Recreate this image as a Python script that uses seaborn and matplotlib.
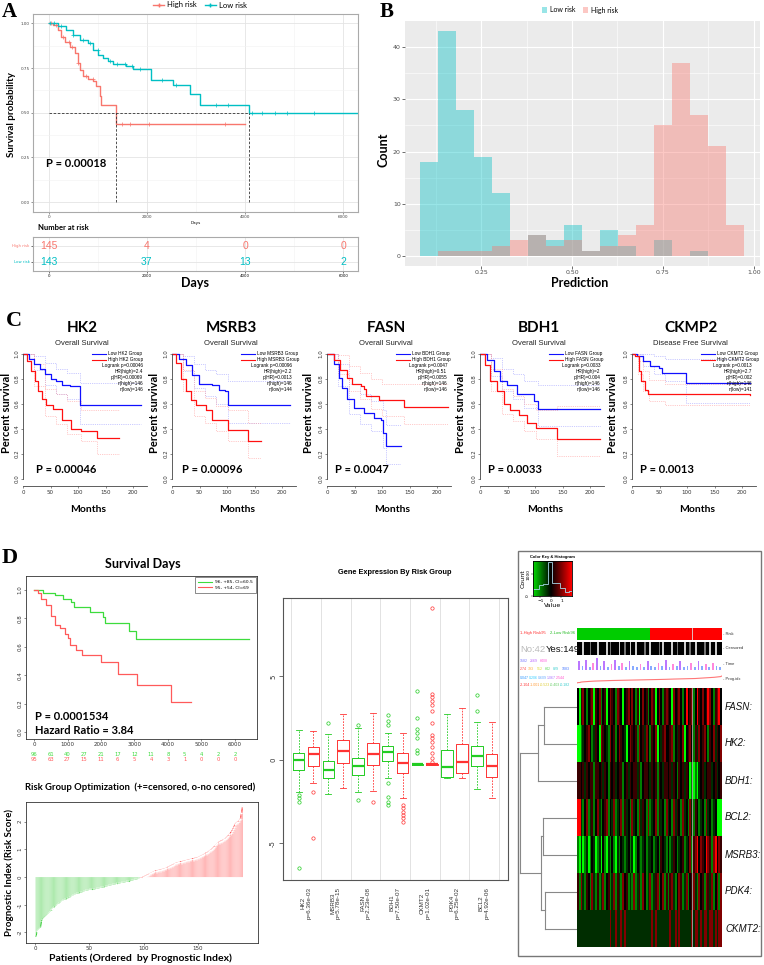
import numpy as np
import pandas as pd
import matplotlib
matplotlib.use("Agg")
import matplotlib.pyplot as plt
from matplotlib.lines import Line2D
from matplotlib.patches import Patch, Rectangle
from matplotlib.colors import LinearSegmentedColormap
import seaborn as sns

# ======================= DATA =======================
# ---- Panel A : KM by risk group ----
a_high_t = [0, 88, 190, 258, 326, 428, 530, 597, 631, 700, 801, 903, 971, 1039, 1073, 1365, 3992]
a_high_s = [1.0, 0.99, 0.963, 0.926, 0.898, 0.87, 0.833, 0.778, 0.74, 0.707, 0.689, 0.676, 0.648, 0.593, 0.545, 0.435, 0.435]
a_low_t = [0, 190, 360, 496, 631, 801, 903, 1005, 1107, 1208, 1310, 1582, 1718, 2090, 2532, 2885, 3089, 4080, 6300]
a_low_s = [1.0, 0.985, 0.963, 0.935, 0.907, 0.889, 0.852, 0.824, 0.806, 0.787, 0.774, 0.763, 0.744, 0.685, 0.657, 0.602, 0.541, 0.50, 0.50]
a_high_cens = [40, 150, 300, 420, 480, 600, 750, 900, 1500, 1650, 2050, 3600]
a_low_cens = [30, 100, 250, 500, 700, 850, 1000, 1250, 1400, 1550, 1700, 1850, 2300, 2600, 3400, 3650, 4150, 4350, 4600, 4850, 5400]
a_median_days = [1365, 4080]
a_risk_times = [0, 2000, 4000, 6000]
a_risk_high = [145, 4, 0, 0]
a_risk_low = [143, 37, 13, 2]

# ---- Panel B : prediction histogram ----
b_edges = [0.083, 0.132, 0.182, 0.231, 0.281, 0.330, 0.380, 0.429, 0.478, 0.528,
           0.577, 0.627, 0.676, 0.726, 0.775, 0.825, 0.874, 0.924, 0.973]
b_low = [18, 43, 28, 19, 12, 0, 4, 3, 6, 1, 5, 2, 0, 3, 0, 1, 0, 0]
b_high = [0, 1, 1, 1, 2, 3, 4, 2, 3, 1, 2, 4, 6, 25, 37, 27, 21, 6]

# ---- Panel C : GEPIA survival curves ----
c_titles = ['HK2', 'MSRB3', 'FASN', 'BDH1', 'CKMP2']
c_subtitles = ['Overall Survival', 'Overall Survival', 'Overall Survival', 'Overall Survival', 'Disease Free Survival']
c_pvals = ['P = 0.00046', 'P = 0.00096', 'P = 0.0047', 'P = 0.0033', 'P = 0.0013']
c_legend = [
    ['Low HK2 Group', 'High HK2 Group', 'Logrank p=0.00046', 'HR(high)=2.4', 'p(HR)=0.00069', 'n(high)=146', 'n(low)=146'],
    ['Low MSRB3 Group', 'High MSRB3 Group', 'Logrank p=0.00096', 'HR(high)=2.2', 'p(HR)=0.0013', 'n(high)=146', 'n(low)=144'],
    ['Low BDH1 Group', 'High BDH1 Group', 'Logrank p=0.0047', 'HR(high)=0.51', 'p(HR)=0.0055', 'n(high)=146', 'n(low)=146'],
    ['Low FASN Group', 'High FASN Group', 'Logrank p=0.0033', 'HR(high)=2', 'p(HR)=0.004', 'n(high)=146', 'n(low)=146'],
    ['Low CKMT2 Group', 'High CKMT2 Group', 'Logrank p=0.0013', 'HR(high)=2.7', 'p(HR)=0.002', 'n(high)=146', 'n(low)=141'],
]
c_low_t = [[0, 10, 20, 30, 40, 50, 60, 70, 85, 103, 215],
           [0, 12, 25, 37, 49, 73, 85, 96, 102, 215],
           [0, 12, 21, 27, 37, 49, 67, 85, 98, 101, 107, 134],
           [0, 12, 25, 37, 49, 68, 98, 105, 218],
           [0, 9, 20, 32, 49, 55, 99, 215]]
c_low_s = [[1.0, 0.96, 0.92, 0.88, 0.84, 0.80, 0.78, 0.75, 0.74, 0.59, 0.59],
           [1.0, 0.96, 0.91, 0.83, 0.76, 0.75, 0.71, 0.70, 0.59, 0.59],
           [1.0, 0.92, 0.81, 0.73, 0.64, 0.57, 0.53, 0.49, 0.475, 0.37, 0.26, 0.26],
           [1.0, 0.95, 0.86, 0.78, 0.75, 0.68, 0.62, 0.56, 0.56],
           [1.0, 0.98, 0.94, 0.90, 0.886, 0.846, 0.765, 0.765]]
c_high_t = [[0, 8, 15, 22, 28, 35, 42, 55, 70, 88, 105, 134, 175],
            [0, 8, 17, 25, 34, 43, 61, 73, 102, 138, 161],
            [0, 12, 24, 37, 46, 61, 67, 70, 94, 140, 220],
            [0, 9, 18, 31, 43, 55, 71, 86, 102, 140, 218],
            [0, 6, 12, 17, 23, 29, 215]]
c_high_s = [[1.0, 0.94, 0.86, 0.78, 0.70, 0.64, 0.59, 0.56, 0.47, 0.40, 0.38, 0.33, 0.33],
            [1.0, 0.93, 0.80, 0.70, 0.63, 0.59, 0.55, 0.47, 0.39, 0.30, 0.30],
            [1.0, 0.955, 0.875, 0.81, 0.76, 0.74, 0.72, 0.66, 0.63, 0.575, 0.575],
            [1.0, 0.91, 0.78, 0.70, 0.60, 0.55, 0.51, 0.45, 0.41, 0.32, 0.32],
            [1.0, 0.98, 0.86, 0.78, 0.71, 0.68, 0.675]]
c_low_ci_t = [[0, 20, 40, 60, 80, 103, 215], [0, 20, 40, 60, 80, 102, 215], [0, 20, 40, 60, 80, 101, 107, 134],
              [0, 20, 40, 60, 80, 105, 218], [0, 20, 40, 60, 99, 215]]
c_low_ci_hi = [[1.0, 0.98, 0.93, 0.88, 0.85, 0.77, 0.77], [1.0, 0.98, 0.92, 0.87, 0.84, 0.78, 0.78],
               [1.0, 0.92, 0.76, 0.68, 0.62, 0.55, 0.43, 0.43], [1.0, 0.97, 0.88, 0.84, 0.78, 0.75, 0.75],
               [1.0, 1.0, 0.98, 0.96, 0.96, 0.96]]
c_low_ci_lo = [[1.0, 0.87, 0.75, 0.68, 0.64, 0.44, 0.44], [1.0, 0.86, 0.73, 0.66, 0.60, 0.45, 0.45],
               [1.0, 0.74, 0.52, 0.44, 0.38, 0.25, 0.12, 0.12], [1.0, 0.82, 0.70, 0.64, 0.57, 0.42, 0.42],
               [1.0, 0.90, 0.84, 0.78, 0.61, 0.61]]
c_high_ci_t = [[0, 20, 40, 60, 80, 105, 134, 175], [0, 20, 40, 60, 80, 102, 138, 161], [0, 20, 40, 60, 80, 100, 140, 220],
               [0, 20, 40, 60, 80, 102, 140, 218], [0, 10, 20, 30, 60, 215]]
c_high_ci_hi = [[1.0, 0.92, 0.72, 0.68, 0.62, 0.55, 0.55, 0.55], [1.0, 0.87, 0.70, 0.65, 0.58, 0.55, 0.45, 0.45],
                [1.0, 0.99, 0.90, 0.85, 0.80, 0.76, 0.76, 0.76], [1.0, 0.88, 0.72, 0.66, 0.60, 0.55, 0.58, 0.58],
                [1.0, 0.94, 0.86, 0.79, 0.76, 0.76]]
c_high_ci_lo = [[1.0, 0.74, 0.50, 0.44, 0.36, 0.30, 0.20, 0.20], [1.0, 0.70, 0.50, 0.45, 0.38, 0.30, 0.17, 0.17],
                [1.0, 0.84, 0.70, 0.64, 0.56, 0.50, 0.44, 0.44], [1.0, 0.70, 0.52, 0.46, 0.38, 0.32, 0.18, 0.18],
                [1.0, 0.84, 0.70, 0.62, 0.59, 0.59]]

# ---- Panel D (left top): survival days ----
d_low_t = [0, 269, 617, 866, 1114, 1184, 1682, 2060, 2110, 2836, 3035, 6418]
d_low_s = [1.0, 0.976, 0.965, 0.94, 0.918, 0.88, 0.847, 0.812, 0.765, 0.71, 0.652, 0.652]
d_high_t = [0, 119, 219, 368, 517, 617, 766, 915, 1015, 1085, 1264, 1443, 2010, 2507, 3075, 4100, 4697]
d_high_s = [1.0, 0.976, 0.94, 0.894, 0.82, 0.753, 0.73, 0.694, 0.66, 0.612, 0.576, 0.54, 0.494, 0.41, 0.33, 0.21, 0.21]
d_risk_times = [0, 500, 1000, 1500, 2000, 2500, 3000, 3500, 4000, 4500, 5000, 5500, 6000]
d_risk_low = [96, 61, 40, 27, 21, 17, 12, 11, 8, 5, 4, 2, 2]
d_risk_high = [95, 63, 27, 15, 11, 6, 5, 4, 3, 1, 0, 0, 0]
d_legend = ['96, +85, CI=60.5', '95, +54, CI=69']

# ---- Panel D (left bottom): prognostic index, ordered ----
d_pi_low = [-2.15, -1.95, -1.90, -1.86, -1.84, -1.60, -1.52, -1.47, -1.43, -1.40,
            -1.36, -1.33, -1.30, -1.27, -1.22, -1.17, -1.12, -1.08, -1.05, -1.02,
            -0.99, -0.96, -0.93, -0.90, -0.88, -0.86, -0.84, -0.82, -0.80, -0.78,
            -0.76, -0.74, -0.72, -0.70, -0.68, -0.66, -0.64, -0.62, -0.61, -0.60,
            -0.58, -0.57, -0.56, -0.55, -0.53, -0.52, -0.51, -0.50, -0.49, -0.48,
            -0.48, -0.47, -0.46, -0.46, -0.45, -0.44, -0.44, -0.43, -0.42, -0.41,
            -0.40, -0.39, -0.38, -0.37, -0.36, -0.35, -0.34, -0.33, -0.32, -0.31,
            -0.30, -0.29, -0.28, -0.27, -0.26, -0.26, -0.25, -0.24, -0.23, -0.23,
            -0.22, -0.21, -0.20, -0.19, -0.18, -0.17, -0.16, -0.15, -0.14, -0.13,
            -0.12, -0.11, -0.10, -0.09, -0.08, -0.07]
d_pi_high = [-0.05, -0.03, -0.01, 0.01,
             0.03, 0.05, 0.07, 0.09, 0.11, 0.13, 0.15, 0.17, 0.19, 0.21,
             0.22, 0.23, 0.24, 0.25, 0.26, 0.27, 0.28, 0.29, 0.30, 0.31,
             0.33, 0.35, 0.37, 0.39, 0.41, 0.43, 0.45, 0.47, 0.49, 0.51,
             0.52, 0.53, 0.54, 0.55, 0.56, 0.57, 0.58, 0.59, 0.60, 0.61,
             0.62, 0.63, 0.64, 0.65, 0.66, 0.67, 0.68, 0.69, 0.70, 0.71,
             0.73, 0.75, 0.77, 0.79, 0.81, 0.83, 0.86, 0.88, 0.90, 0.93,
             0.96, 0.99, 1.02, 1.06, 1.10, 1.14, 1.18, 1.22, 1.25, 1.28,
             1.30, 1.32, 1.34, 1.36, 1.38, 1.42, 1.46, 1.50, 1.55, 1.60,
             1.65, 1.72, 1.80, 1.90, 1.95, 1.98, 2.00, 2.05, 2.10, 2.30, 2.55]

# ---- Panel D (middle): gene expression boxplots (whislo, q1, med, q3, whishi) ----
d_genes = ['HK2', 'MSRB3', 'FASN', 'BDH1', 'CKMT2', 'PDK4', 'BCL2']
d_gene_p = ['p=6.36e-03', 'p=5.78e-15', 'p=2.23e-08', 'p=7.50e-07', 'p=1.02e-01', 'p=6.25e-02', 'p=4.92e-06']
d_low_box = [[-1.94, -0.6, 0.0, 0.4, 1.8], [-2.06, -1.1, -0.6, -0.06, 1.54], [-1.94, -0.9, -0.36, 0.1, 1.9],
             [-1.06, -0.06, 0.46, 0.86, 1.6], [-0.3, -0.28, -0.26, -0.22, -0.2], [-1.06, -1.0, -0.4, 0.6, 2.74],
             [-1.74, -0.36, 0.26, 0.86, 2.26]]
d_low_fliers = [[-2.1, -2.3, -2.5, -6.5], [2.2], [2.06, -2.4], [2.66, 2.34, 2.06, -1.4, -2.2, -2.5, -2.7],
                [4.1, 2.5, 1.86, 1.6, 1.3, 0.6, 0.4], [], [3.9, 2.9]]
d_high_box = [[-1.4, -0.34, 0.34, 0.76, 1.74], [-1.66, -0.16, 0.54, 1.2, 2.74], [-1.86, -0.3, 0.34, 1.04, 2.8],
              [-2.3, -0.8, -0.2, 0.4, 1.58], [-0.3, -0.28, -0.26, -0.22, -0.2], [-1.06, -0.8, -0.1, 0.94, 3.1],
              [-2.3, -1.0, -0.36, 0.36, 2.26]]
d_high_fliers = [[-1.94, -4.66], [], [-2.5], [-2.7, -2.9, -3.1, -3.3, -3.5, -3.7],
                 [9.1, 3.94, 3.74, 3.5, 3.3, 2.9, 2.2, 1.5, 1.3, 1.06, 0.8, 0.4, 0.1, -0.1], [], []]

# ---- Panel D (right): heatmap ----
hm_genes = ['FASN:', 'HK2:', 'BDH1:', 'BCL2:', 'MSRB3:', 'PDK4:', 'CKMT2:']
hm_rows = ['kGmrkgkmrG mkrgkmGkrm kgrmkGkmrk rkgmGkrkmg krmGkrkgmr mkGrkmrkgk RkmrgkRmkr kmRrkgmrRk',
           'GGgdkmrkgd mkGrmkdgrk mgkrmkdGkr mkmgrkmdrk gmkrGkdmrk kmrgkdmkrG kmrkgmdrkm rkgmkrdmkr',
           'mmkmdmkmmg mmkmdmkgmk mdkmmgkmdm kmmdmgkmmk dmkmgmkdmm kmdmkgmkmd mkGgGgGdkm dkmmdkmdkm',
           'RRdgkrgdmg krdgkmrgkd rgdkrgmdkg rdkgrdmkgr gdkrgmdkgr dkgrdmkgrd kgrdgmkgdk grdkgdkGGG',
           'gGdGgdGgkd GgdGkgGdgk gGdgkdgdkg dGgkdgdkgd dkgdkgmkdg kgdmkgdkmg dkrgmrRkrm kRrmgrRkrm',
           'mgrdgmkgrd gmgdrgkmgd rgmdgrkmgd grgdmgrkgd rgdmrgkrgm gmrdgkrmgd rgkmrdgrkm grmdrgkrgr',
           'dddddddddd ddddddddrd drddrdrddd dddddddddd drdrdddddd drddrdrddd dddrdrrdrd rrdrrdrdrr']
hm_levels = {'G': -2.0, 'g': -1.0, 'd': -0.35, 'k': 0.0, 'm': 0.45, 'r': 1.0, 'R': 2.0}
hm_censored = 'kkkwkkklkk kwkkkkwklk kkkwkklkkw kkwkkkklkk wkkkklkwkk kkwkklkkkw kklkkwkkkk lkkwkkwkkk'
hm_time = [6, 3, 7, 2, 5, 8, 3, 6, 2, 4, 7, 3, 5, 2, 6, 3, 2, 4, 2, 6,
           3, 2, 5, 3, 7, 2, 4, 3, 6, 2, 3, 5, 2, 6, 3, 4, 2, 5, 3, 2]
hm_n_low, hm_n_high = 96, 95
hm_marker_col = 151
ck_edges = [-1.68, -1.11, -0.79, -0.25, 0.13, 0.86, 1.33, 1.75, 1.97]
ck_counts = [300, 520, 560, 1540, 600, 370, 200, 230]
dend_merges = [(0, 1, 0.95), (7, 2, 1.13), (3, 4, 1.00), (5, 6, 0.93), (9, 10, 1.05), (8, 11, 1.65)]
legend_rows = [
    [('1582', '#7777FF'), ('2669', '#BB66FF'), ('6408', '#FF66DD')],
    [('2.74', '#FF4444'), ('393', '#FFAA33'), ('512', '#DDDD33'), ('642', '#66DD66'), ('829', '#33CCCC'), ('1083', '#4477FF')],
    [('0.047', '#3399FF'), ('0.206', '#33CCFF'), ('0.609', '#66AAFF'), ('1.067', '#AA77FF'), ('2.544', '#FF55CC')],
    [('-2.104', '#FF3333'), ('-1.001', '#FF9933'), ('-0.523', '#DDCC33'), ('-0.403', '#66CC66'), ('-0.182', '#33CCCC')],
]

# ======================= FIGURE =======================
plt.rcParams['font.family'] = ['DejaVu Sans']
plt.rcParams['axes.linewidth'] = 0.6
W, H = 764, 965
fig = plt.figure(figsize=(W / 100, H / 100), dpi=100)
fig.patch.set_facecolor('white')

CAL = ['Lato', 'DejaVu Sans']
ARI = ['Liberation Sans', 'DejaVu Sans']
SER = ['Liberation Serif', 'DejaVu Serif']
SAL, TEA = '#F8766D', '#00BFC4'


def pax(x0, y0, x1, y1):
    return fig.add_axes([x0 / W, 1 - y1 / H, (x1 - x0) / W, (y1 - y0) / H])


def ftext(x, y, s, **kw):
    kw.setdefault('ha', 'center')
    kw.setdefault('va', 'center')
    return fig.text(x / W, 1 - y / H, s, **kw)


def km(ax, t, s, color, lw, **kw):
    sns.lineplot(x=t, y=s, drawstyle='steps-post', color=color, lw=lw, ax=ax,
                 estimator=None, sort=False, **kw)


def step_at(t, s, x):
    i = np.searchsorted(np.asarray(t), np.asarray(x), side='right') - 1
    return np.asarray(s)[i]


# ---------------- Panel A ----------------
ftext(9, 12, 'A', fontsize=15, fontweight='bold', family=SER)
axA = pax(33, 14, 358, 212)
axA.set_xlim(-320, 6300)
axA.set_ylim(-0.055, 1.052)
axA.set_xticks(a_risk_times)
axA.set_xticks([1000, 3000, 5000], minor=True)
axA.set_yticks([0, 0.25, 0.5, 0.75, 1.0])
axA.set_yticklabels(['0.00', '0.25', '0.50', '0.75', '1.00'])
axA.set_yticks([0.125, 0.375, 0.625, 0.875], minor=True)
axA.grid(True, which='major', color='#E4E4E4', lw=0.6)
axA.grid(True, which='minor', color='#F2F2F2', lw=0.4)
axA.set_axisbelow(True)
axA.tick_params(which='major', labelsize=3, length=1.5, width=0.4, pad=1, colors='#444444')
axA.tick_params(which='minor', length=0)
for sp in axA.spines.values():
    sp.set_color('#AAAAAA')
    sp.set_linewidth(0.8)
km(axA, a_high_t, a_high_s, SAL, 1.0)
km(axA, a_low_t, a_low_s, TEA, 1.0)
axA.plot(a_high_cens, step_at(a_high_t, a_high_s, a_high_cens), '+', color=SAL, ms=2.5, mew=0.5)
axA.plot(a_low_cens, step_at(a_low_t, a_low_s, a_low_cens), '+', color=TEA, ms=2.5, mew=0.5)
axA.plot([0, a_median_days[1]], [0.5, 0.5], ls=(0, (3, 2)), color='#333333', lw=0.6)
for m in a_median_days:
    axA.plot([m, m], [0, 0.5], ls=(0, (3, 2)), color='#333333', lw=0.6)
axA.set_xlabel('Days', fontsize=3, labelpad=1)
axA.set_ylabel('')
axA.text(-50, 0.215, 'P = 0.00018', fontsize=8, fontweight='bold', family=CAL, va='center')
ftext(12, 115, 'Survival probability', rotation=90, fontsize=7, fontweight='bold', family=CAL)
fig.legend(handles=[Line2D([], [], color=SAL, marker='+', ms=3, lw=1),
                    Line2D([], [], color=TEA, marker='+', ms=3, lw=1)],
           labels=['High risk', 'Low risk'], loc='center', bbox_to_anchor=(200 / W, 1 - 5 / H),
           ncol=2, frameon=False, prop={'family': CAL, 'size': 5.5}, handlelength=1.5,
           columnspacing=1.0, handletextpad=0.4)

ftext(38, 228, 'Number at risk', ha='left', fontsize=5.5, fontweight='bold', family=CAL)
axR = pax(33, 237, 358, 271)
axR.set_xlim(-320, 6300)
axR.set_ylim(2.5625, 0.4375)
axR.set_xticks(a_risk_times)
axR.set_xticks([1000, 3000, 5000], minor=True)
axR.set_yticks([1, 2])
axR.set_yticklabels(['High risk', 'Low risk'])
for lab, c in zip(axR.get_yticklabels(), [SAL, TEA]):
    lab.set_color(c)
axR.grid(True, which='major', color='#E4E4E4', lw=0.6)
axR.grid(True, which='minor', axis='x', color='#F2F2F2', lw=0.4)
axR.tick_params(which='major', labelsize=2.8, length=1.5, width=0.4, pad=1)
axR.tick_params(which='minor', length=0)
for sp in axR.spines.values():
    sp.set_color('#AAAAAA')
    sp.set_linewidth(0.8)
for t, nh, nl in zip(a_risk_times, a_risk_high, a_risk_low):
    axR.text(t, 1, str(nh), color=SAL, fontsize=7.5, ha='center', va='center', family=ARI)
    axR.text(t, 2, str(nl), color=TEA, fontsize=7.5, ha='center', va='center', family=ARI)
ftext(195, 283, 'Days', fontsize=9, fontweight='bold', family=CAL)

# ---------------- Panel B ----------------
ftext(387, 12, 'B', fontsize=15, fontweight='bold', family=SER)
axB = pax(405, 21, 760, 266)
axB.set_facecolor('#EBEBEB')
b_centers = [(b_edges[i] + b_edges[i + 1]) / 2 for i in range(len(b_edges) - 1)]
dfl = pd.DataFrame({'pred': b_centers, 'n': b_low})
dfh = pd.DataFrame({'pred': b_centers, 'n': b_high})
sns.histplot(data=dfl, x='pred', weights='n', bins=b_edges, color=TEA, alpha=0.4, linewidth=0, ax=axB)
sns.histplot(data=dfh, x='pred', weights='n', bins=b_edges, color=SAL, alpha=0.4, linewidth=0, ax=axB)
axB.set_xlim(0.0412, 1.0165)
axB.set_ylim(-1.91, 44.98)
axB.set_xticks([0.25, 0.5, 0.75, 1.0])
axB.set_xticklabels(['0.25', '0.50', '0.75', '1.00'])
axB.set_xticks([0.125, 0.375, 0.625, 0.875], minor=True)
axB.set_yticks([0, 10, 20, 30, 40])
axB.set_yticks([5, 15, 25, 35], minor=True)
axB.set_axisbelow(True)
axB.grid(True, which='major', color='white', lw=0.8)
axB.grid(True, which='minor', color='white', lw=0.4)
axB.tick_params(which='major', labelsize=4.5, length=2, width=0.5, color='#333333', labelcolor='#4D4D4D', pad=1)
axB.tick_params(which='minor', length=0)
for sp in axB.spines.values():
    sp.set_visible(False)
axB.set_xlabel('')
axB.set_ylabel('')
ftext(580, 283, 'Prediction', fontsize=9, fontweight='bold', family=CAL)
ftext(383, 150, 'Count', rotation=90, fontsize=9, fontweight='bold', family=CAL)
fig.legend(handles=[Patch(facecolor=TEA, alpha=0.4), Patch(facecolor=SAL, alpha=0.4)],
           labels=['Low risk', 'High risk'], loc='center', bbox_to_anchor=(580 / W, 1 - 10 / H),
           ncol=2, frameon=False, prop={'family': CAL, 'size': 5}, handlelength=0.8, handleheight=0.8,
           columnspacing=1.0, handletextpad=0.4)

# ---------------- Panel C ----------------
ftext(14, 321, 'C', fontsize=16, fontweight='bold', family=SER)
c_x0 = [23, 172, 327, 480, 632]
c_ylab_x = [7, 155, 308, 460, 613]
c_p_x = [36, 182, 335, 488, 640]
PXM = 0.55
for i in range(5):
    x0 = c_x0[i]
    ax = pax(x0, 349, x0 + 225 * PXM, 486.5)
    ax.set_xlim(0, 225)
    ax.set_ylim(-0.06, 1.04)
    for sp in ['top', 'right']:
        ax.spines[sp].set_visible(False)
    for sp in ['left', 'bottom']:
        ax.spines[sp].set_color('#444444')
        ax.spines[sp].set_linewidth(0.6)
    ax.spines['left'].set_bounds(0, 1)
    ax.set_xticks([0, 50, 100, 150, 200])
    ax.set_yticks([0, 0.2, 0.4, 0.6, 0.8, 1.0])
    ax.set_yticklabels(['0.0', '0.2', '0.4', '0.6', '0.8', '1.0'], rotation=90, va='center')
    ax.tick_params(labelsize=4, length=1.5, width=0.4, pad=1, colors='#333333')
    km(ax, c_low_ci_t[i], c_low_ci_hi[i], '#9A9AFF', 0.5, ls=':')
    km(ax, c_low_ci_t[i], c_low_ci_lo[i], '#9A9AFF', 0.5, ls=':')
    km(ax, c_high_ci_t[i], c_high_ci_hi[i], '#FF9A9A', 0.5, ls=':')
    km(ax, c_high_ci_t[i], c_high_ci_lo[i], '#FF9A9A', 0.5, ls=':')
    km(ax, c_low_t[i], c_low_s[i], '#1010FF', 0.9)
    km(ax, c_high_t[i], c_high_s[i], '#FF1010', 0.9)
    ax.set_xlabel('')
    ax.set_ylabel('')
    lg = c_legend[i]
    for j, txt in enumerate(lg):
        yy = 0.964 - j * 0.0436
        if j < 2:
            ax.plot([0.56, 0.67], [yy, yy], transform=ax.transAxes, color=['#1010FF', '#FF1010'][j], lw=0.8)
            ax.text(0.69, yy, txt, transform=ax.transAxes, fontsize=3.4, va='center', ha='left', family=ARI)
        else:
            ax.text(0.97, yy, txt, transform=ax.transAxes, fontsize=3.4, va='center', ha='right', family=ARI)
    cx = x0 + 0.5 * 225 * PXM - 3
    ftext(cx, 328, c_titles[i], fontsize=11, fontweight='bold', family=CAL)
    ftext(cx, 343, c_subtitles[i], fontsize=5.5, family=ARI, color='#222222')
    ftext(c_ylab_x[i], 413, 'Percent survival', rotation=90, fontsize=8, fontweight='bold', family=CAL)
    ftext(c_p_x[i], 470, c_pvals[i], ha='left', fontsize=8, fontweight='bold', family=CAL)
    ftext(x0 + 65, 509, 'Months', fontsize=7.5, fontweight='bold', family=CAL)

# ---------------- Panel D left top ----------------
ftext(10, 558, 'D', fontsize=16, fontweight='bold', family=SER)
GRN, RED = '#3DDC3D', '#FF5A5A'
axK = pax(26, 576, 257, 739)
axK.set_xlim(-239, 6657)
axK.set_ylim(-0.049, 1.099)
km(axK, d_low_t, d_low_s, GRN, 0.9)
km(axK, d_high_t, d_high_s, RED, 0.9)
axK.set_xlabel('')
axK.set_ylabel('')
axK.set_xticks(d_risk_times[::2])
axK.set_yticks([0, 0.2, 0.4, 0.6, 0.8, 1.0])
axK.set_yticklabels(['0.0', '0.2', '0.4', '0.6', '0.8', '1.0'], rotation=90, va='center')
axK.tick_params(labelsize=4, length=1.5, width=0.4, pad=1, colors='#333333')
for sp in axK.spines.values():
    sp.set_color('#333333')
    sp.set_linewidth(0.6)
for t, nl, nh in zip(d_risk_times, d_risk_low, d_risk_high):
    axK.text(t, -0.155, str(nl), color=GRN, fontsize=3.8, ha='center', va='center', clip_on=False)
    axK.text(t, -0.19, str(nh), color=RED, fontsize=3.8, ha='center', va='center', clip_on=False)
lgK = axK.legend(handles=[Line2D([], [], color=GRN, lw=0.8), Line2D([], [], color=RED, lw=0.8)],
                 labels=d_legend, loc='upper right', fontsize=3.2, frameon=True, fancybox=False,
                 edgecolor='#333333', borderpad=0.7, handlelength=3, borderaxespad=0.2, labelspacing=0.4)
lgK.get_frame().set_linewidth(0.5)
ftext(143, 564, 'Survival Days', fontsize=9, fontweight='bold', family=CAL)
ftext(35, 716, 'P = 0.0001534', ha='left', fontsize=8, fontweight='bold', family=CAL)
ftext(35, 731, 'Hazard Ratio = 3.84', ha='left', fontsize=8, fontweight='bold', family=CAL)

# ---------------- Panel D left bottom ----------------
axP = pax(26, 802, 258, 943)
idx_low = list(range(1, len(d_pi_low) + 1))
idx_high = list(range(len(d_pi_low) + 1, len(d_pi_low) + len(d_pi_high) + 1))
axP.bar(idx_low, d_pi_low, width=0.85, color='#A8E8A8', lw=0, snap=False)
axP.bar(idx_high, d_pi_high, width=0.85, color='#FFB3B3', lw=0, snap=False)
sns.lineplot(x=idx_low, y=d_pi_low, color='#33CC33', lw=0.7, marker='+', markersize=2.2,
             markeredgewidth=0.4, ax=axP, estimator=None, sort=False)
sns.lineplot(x=idx_high, y=d_pi_high, color='#FF4444', lw=0.7, marker='+', markersize=2.2,
             markeredgewidth=0.4, ax=axP, estimator=None, sort=False)
axP.set_xlim(-8.3, 205.3)
axP.set_ylim(-2.38, 2.71)
axP.set_xticks([0, 50, 100, 150])
axP.set_yticks([-2, -1, 0, 1, 2])
axP.set_yticklabels(['-2', '-1', '0', '1', '2'], rotation=90, va='center')
axP.tick_params(labelsize=4, length=1.5, width=0.4, pad=1, colors='#333333')
for sp in axP.spines.values():
    sp.set_color('#333333')
    sp.set_linewidth(0.6)
axP.set_xlabel('')
axP.set_ylabel('')
ftext(140, 787, 'Risk Group Optimization  (+=censored, o-no censored)', fontsize=6.8, fontweight='bold', family=CAL)
ftext(9, 872, 'Prognostic Index (Risk Score)', rotation=90, fontsize=7, fontweight='bold', family=CAL)
ftext(140, 958, 'Patients (Ordered  by Prognostic Index)', fontsize=7.5, fontweight='bold', family=CAL)

# ---------------- Panel D middle ----------------
axX = pax(283, 598, 508, 880)
for k in range(len(d_genes) + 1):
    axX.axvline(-0.5 + 2 * k, color='#DDDDDD', lw=0.6, zorder=0)


def mkstats(boxes, fliers):
    out = []
    for b, f in zip(boxes, fliers):
        out.append({'whislo': b[0], 'q1': b[1], 'med': b[2], 'q3': b[3], 'whishi': b[4], 'fliers': f})
    return out


for stats, pos0, col in [(mkstats(d_low_box, d_low_fliers), 0, '#22CC22'),
                         (mkstats(d_high_box, d_high_fliers), 1, '#FF3333')]:
    axX.bxp(stats, positions=list(range(pos0, 14, 2)), widths=0.78, capwidths=0.4,
            boxprops=dict(color=col, lw=0.7), medianprops=dict(color=col, lw=1.6),
            whiskerprops=dict(color=col, lw=0.6, ls=(0, (2, 1.5))), capprops=dict(color=col, lw=0.6),
            flierprops=dict(marker='o', markersize=2.4, markerfacecolor='none', markeredgecolor=col,
                            markeredgewidth=0.5))
axX.set_xlim(-1.05, 14.1)
axX.set_ylim(-7.2, 9.7)
axX.set_yticks([-5, 0, 5])
axX.set_yticklabels(['-5', '0', '5'], rotation=90, va='center')
axX.set_xticks([0.5 + 2 * k for k in range(len(d_genes))])
axX.set_xticklabels([g + '\n' + p for g, p in zip(d_genes, d_gene_p)], rotation=90, ha='center', va='top',
                    family=ARI, color='#333333')
axX.tick_params(axis='x', labelsize=4.5, length=0, pad=5)
axX.tick_params(axis='y', labelsize=5, length=3, width=0.5, pad=2, colors='#333333')
for sp in axX.spines.values():
    sp.set_color('#555555')
    sp.set_linewidth(0.8)
ftext(395, 573, 'Gene Expression By Risk Group', fontsize=5.3, fontweight='bold', family=ARI)

# ---------------- Panel D right (heatmap) ----------------
fig.patches.append(Rectangle((518 / W, 1 - 956 / H), (761 - 518) / W, (956 - 551) / H,
                             transform=fig.transFigure, fill=False, ec='#777777', lw=1.0))
hm_cmap = LinearSegmentedColormap.from_list('gkr', ['#00FF00', '#000000', '#FF0000'])

axC = pax(533, 561, 572, 596)
grad = np.linspace(-1.71, 2.0, 200).reshape(1, -1)
axC.imshow(grad, cmap=hm_cmap, vmin=-2, vmax=2, extent=[-1.71, 2.0, 0, 1600], aspect='auto')
axC.stairs(ck_counts, ck_edges, color='#A8D8E8', lw=0.6)
axC.set_xlim(-1.71, 2.0)
axC.set_ylim(0, 1600)
axC.set_xticks([-1, 0, 1])
axC.set_yticks([0, 1000])
axC.set_yticklabels(['0', '1000'], rotation=90, va='center')
axC.tick_params(labelsize=3.2, length=1.2, width=0.3, pad=0.8)
axC.set_xlabel('Value', fontsize=4.5, labelpad=0.5)
axC.set_ylabel('Count', fontsize=4.5, labelpad=0.5)
ftext(552, 557, 'Color Key & Histogram', fontsize=3.0, fontweight='bold', family=ARI)

N_COL = len(hm_rows[0].replace(' ', ''))
axRk = pax(577, 628, 722, 640)
axRk.axvspan(0, hm_n_low, color='#00CC00', lw=0)
axRk.axvspan(hm_n_low, hm_n_low + hm_n_high, color='#FF0000', lw=0)
axRk.axvline(hm_marker_col, color='#DDDDDD', lw=0.6)
axRk.set_xlim(0, hm_n_low + hm_n_high)
axRk.axis('off')

cens_map = {'k': 0.0, 'l': 0.45, 'w': 0.8}
cens = np.array([[cens_map[c] for c in hm_censored.replace(' ', '')]])
axCe = pax(577, 642, 722, 655)
axCe.imshow(cens, cmap='gray', vmin=0, vmax=1, aspect='auto', interpolation='nearest')
axCe.axis('off')

axT = pax(577, 657, 722, 670)
t_cols = ['#99CC88' if h <= 1 else '#88AAFF' if h <= 3 else '#FF88DD' if h <= 5 else '#BB77FF' for h in hm_time]
axT.bar(range(len(hm_time)), hm_time, width=0.45, color=t_cols, lw=0)
axT.set_xlim(-0.5, len(hm_time) - 0.5)
axT.set_ylim(0, 9)
axT.axis('off')

axPi = pax(577, 672, 722, 686)
pi_all = d_pi_low + d_pi_high
axPi.plot(range(len(pi_all)), pi_all, color='#FF7777', lw=0.8)
axPi.set_xlim(0, len(pi_all) - 1)
axPi.set_ylim(-4.2, 5.2)
axPi.axis('off')

for yy, lab in [(634, '- Risk'), (648, '- Censored'), (664, '- Time'), (679, '- Prog.idx')]:
    ftext(723, yy, lab, ha='left', fontsize=3.0, family=ARI, color='#333333')

ftext(520, 633, '1-High Risk95', ha='left', fontsize=3.0, family=ARI, color='#FF3333')
ftext(550, 633, '2-Low Risk96', ha='left', fontsize=3.0, family=ARI, color='#22BB22')
ftext(520, 650, 'No:42', ha='left', fontsize=6.8, family=ARI, color='#BBBBBB')
ftext(546, 650, 'Yes:149', ha='left', fontsize=6.8, family=ARI, color='#111111')
for yy, row, span in zip([661, 669, 678, 685], legend_rows, [30, 50, 45, 50]):
    for k, (s, c) in enumerate(row):
        ftext(520 + k * span / len(row), yy, s, ha='left', fontsize=2.6, family=ARI, color=c)

mat = np.array([[hm_levels[c] for c in r.replace(' ', '')] for r in hm_rows])
axH = pax(577, 688, 722, 947)
axH.imshow(mat, cmap=hm_cmap, vmin=-2, vmax=2, aspect='auto', interpolation='nearest')
axH.axvline(hm_marker_col / (hm_n_low + hm_n_high) * N_COL - 0.5, color='#AAAAAA', lw=0.6)
axH.axis('off')
for r, g in enumerate(hm_genes):
    ftext(725, 688 + 37 * (r + 0.5), g, ha='left', fontsize=7.0, style='italic', family=ARI, color='#111111')

axD = pax(518, 688, 577, 947)
axD.set_xlim(1.72, 0)
axD.set_ylim(7, 0)
nodes = {i: (i + 0.5, 0.0) for i in range(7)}
for k, (a, b, h) in enumerate(dend_merges):
    ya, ha_ = nodes[a]
    yb, hb = nodes[b]
    axD.plot([ha_, h], [ya, ya], color='#888888', lw=0.8)
    axD.plot([hb, h], [yb, yb], color='#888888', lw=0.8)
    axD.plot([h, h], [ya, yb], color='#888888', lw=0.8)
    nodes[7 + k] = ((ya + yb) / 2, h)
axD.axis('off')

fig.savefig('out.png', dpi=100, facecolor='white')
